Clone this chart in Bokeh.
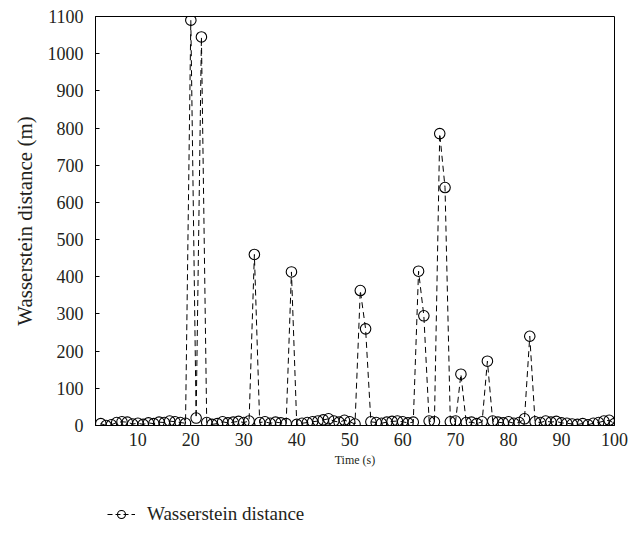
from bokeh.plotting import figure
from bokeh.layouts import column
from bokeh.models import Range1d, FixedTicker, Legend, LegendItem
from bokeh.embed import file_html
from bokeh.resources import INLINE

# Time stamps (s) and Wasserstein distance (m)
time_s = list(range(3, 101))
distance_m = [
    5, 0, 2, 8, 10, 9, 4, 6, 3, 7, 5, 9, 8, 12, 10, 8, 6,   # 3-19
    1090, 20, 1045,                                          # 20-22
    8, 3, 5, 10, 7, 9, 11, 8, 12,                            # 23-31
    460,                                                     # 32
    8, 10, 6, 9, 7, 5,                                       # 33-38
    413,                                                     # 39
    3, 6, 8, 10, 12, 15, 18, 12, 9, 14, 10, 4,               # 40-51
    363, 260,                                                # 52-53
    10, 8, 6, 9, 11, 12, 10, 7, 9,                           # 54-62
    415, 295,                                                # 63-64
    12, 10,                                                  # 65-66
    785, 640,                                                # 67-68
    10, 12,                                                  # 69-70
    138,                                                     # 71
    8, 9, 5, 10,                                             # 72-75
    173,                                                     # 76
    12, 9, 7, 10, 6, 8, 18,                                  # 77-83
    240,                                                     # 84
    10, 8, 12, 9, 11, 7, 6, 4, 3, 5, 2, 6, 8, 12, 14, 5,     # 85-100
]
x_ticks = [10, 20, 30, 40, 50, 60, 70, 80, 90, 100]
y_ticks = [0, 100, 200, 300, 400, 500, 600, 700, 800, 900, 1000, 1100]
series_label = "Wasserstein distance"

FONT = "Liberation Serif"
INK = "#231f20"
LINE_STYLE = dict(line_color="black", line_width=1, line_dash="6 4")
MARKER_STYLE = dict(marker="circle", fill_color=None, line_color="black", line_width=1.1)

# Main chart
p = figure(
    frame_width=519, frame_height=409,
    output_backend="svg", toolbar_location=None,
    x_range=Range1d(2, 100), y_range=Range1d(0, 1100),
    min_border_left=95, min_border_right=25,
    min_border_top=16, min_border_bottom=60,
)
p.background_fill_color = "white"
p.border_fill_color = "white"
p.outline_line_color = "black"
p.outline_line_width = 1
p.grid.visible = False

p.line(time_s, distance_m, **LINE_STYLE)
p.scatter(time_s, distance_m, size=10.5, **MARKER_STYLE)

for ax in (p.xaxis[0], p.yaxis[0]):
    ax.axis_line_color = "black"
    ax.major_tick_in = 4
    ax.major_tick_out = 0
    ax.minor_tick_line_color = None
    ax.major_label_text_font = FONT
    ax.major_label_text_font_size = "18px"
    ax.major_label_text_color = INK
    ax.axis_label_text_font = FONT
    ax.axis_label_text_font_style = "normal"
    ax.axis_label_text_color = INK

p.xaxis.ticker = FixedTicker(ticks=x_ticks)
p.yaxis.ticker = FixedTicker(ticks=y_ticks)
p.xaxis.axis_label = "Time (s)"
p.xaxis.axis_label_text_font_size = "12px"
p.xaxis.major_label_standoff = 7
p.xaxis.axis_label_standoff = 4
p.yaxis.axis_label = "Wasserstein distance (m)"
p.yaxis.axis_label_text_font_size = "21px"
p.yaxis.major_label_standoff = 12
p.yaxis.axis_label_standoff = 8

# Legend strip underneath the chart; the key glyphs sit off-range so only
# their legend swatches are drawn
lg = figure(
    width=639, height=50,
    output_backend="svg", toolbar_location=None,
    x_range=Range1d(0, 639), y_range=Range1d(0, 50),
    x_axis_type=None, y_axis_type=None,
    min_border=0,
)
lg.outline_line_color = None
lg.grid.visible = False
lg.background_fill_color = "white"
lg.border_fill_color = "white"
key_line = lg.line([-100, -90], [-100, -100], line_color="black", line_width=1, line_dash="5 3")
key_marker = lg.scatter([-100], [-100], size=8, **MARKER_STYLE)

legend = Legend(
    items=[LegendItem(label=series_label, renderers=[key_line, key_marker])],
    location=(12, 10),
    orientation="horizontal",
    border_line_color=None,
    background_fill_alpha=0,
    label_text_font=FONT,
    label_text_font_size="19px",
    label_text_color=INK,
    glyph_width=28,
    glyph_height=20,
    label_height=20,
    label_standoff=12,
    padding=0,
    margin=0,
)
lg.add_layout(legend)

open("out.html", "w").write(file_html(column(p, lg), INLINE))
